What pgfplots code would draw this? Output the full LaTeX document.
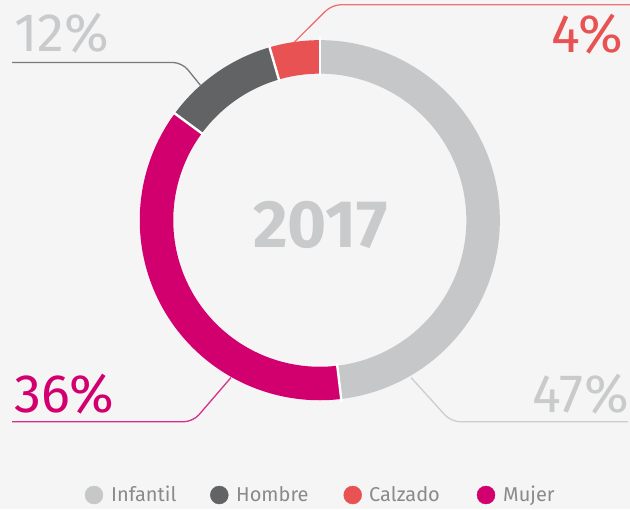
\documentclass[border=0pt]{standalone}
\usepackage{pgfplots}
\pgfplotsset{compat=1.18}
\usepackage{pgfplotstable}
\usepackage{fontspec}
\setmainfont{Fira Sans}
\definecolor{bg}{HTML}{F5F5F5}
\definecolor{cInf}{HTML}{C6C7C8}
\definecolor{cHom}{HTML}{626365}
\definecolor{cCal}{HTML}{E85252}
\definecolor{cMuj}{HTML}{D2006E}
\definecolor{lblgray}{HTML}{C9CACB}
\definecolor{leggray}{HTML}{8A8A8A}
\definecolor{lnHom}{HTML}{7A7A7A}
\definecolor{lnCal}{HTML}{EC7476}
\definecolor{lnMuj}{HTML}{D6308A}
\definecolor{lnInf}{HTML}{CDCDCD}

% shares as drawn (clockwise from 12 o'clock)
\pgfplotstableread{
name share
Infantil 48.1
Mujer 37.0
Hombre 10.4
Calzado 4.5
}\shares

\pgfplotstablegetelem{0}{share}\of\shares \let\sA\pgfplotsretval
\pgfplotstablegetelem{1}{share}\of\shares \let\sB\pgfplotsretval
\pgfplotstablegetelem{2}{share}\of\shares \let\sC\pgfplotsretval
\pgfplotstablegetelem{3}{share}\of\shares \let\sD\pgfplotsretval
\pgfmathsetmacro{\tot}{\sA+\sB+\sC+\sD}
\pgfmathsetmacro{\aA}{0}
\pgfmathsetmacro{\aB}{360*(\sA/\tot)}
\pgfmathsetmacro{\aC}{360*((\sA+\sB)/\tot)}
\pgfmathsetmacro{\aD}{360*((\sA+\sB+\sC)/\tot)}
\pgfmathsetmacro{\aE}{360}
\def\cx{319.8}
\def\cy{220.2}
\def\rmid{163.3}

\begin{document}
\begin{tikzpicture}
\begin{axis}[
  name=ax,
  width=630bp, height=509bp, scale only axis,
  xmin=0, xmax=630, ymin=0, ymax=509, y dir=reverse,
  hide axis, clip=false,
]
\fill[bg] (axis cs:0,0) rectangle (axis cs:630,509);

% ring segments
\addplot[cInf, line width=33.5bp, domain=\aA:\aB, samples=90, no marks, smooth] ({\cx+\rmid*sin(x)}, {\cy-\rmid*cos(x)});
\addplot[cMuj, line width=33.5bp, domain=\aB:\aC, samples=70, no marks, smooth] ({\cx+\rmid*sin(x)}, {\cy-\rmid*cos(x)});
\addplot[cHom, line width=33.5bp, domain=\aC:\aD, samples=30, no marks, smooth] ({\cx+\rmid*sin(x)}, {\cy-\rmid*cos(x)});
\addplot[cCal, line width=33.5bp, domain=\aD:\aE, samples=20, no marks, smooth] ({\cx+\rmid*sin(x)}, {\cy-\rmid*cos(x)});

% separators
\addplot[white, line width=2.4bp, domain=144:183, samples=2, no marks] ({\cx+x*sin(\aA)}, {\cy-x*cos(\aA)});
\addplot[white, line width=2.4bp, domain=144:183, samples=2, no marks] ({\cx+x*sin(\aB)}, {\cy-x*cos(\aB)});
\addplot[white, line width=2.4bp, domain=144:183, samples=2, no marks] ({\cx+x*sin(\aC)}, {\cy-x*cos(\aC)});
\addplot[white, line width=2.4bp, domain=144:183, samples=2, no marks] ({\cx+x*sin(\aD)}, {\cy-x*cos(\aD)});

% leader lines
\addplot[lnHom, line width=1.3bp, rounded corners=9bp, no marks] coordinates {(12,62.5) (182,62.5) (201,86)};
\addplot[lnCal, line width=1.3bp, rounded corners=9bp, no marks] coordinates {(294,42.5) (332,4.7) (630,4.7)};
\addplot[lnMuj, line width=1.3bp, rounded corners=9bp, no marks] coordinates {(12,421.7) (193,421.7) (231,377.5)};
\addplot[lnInf, line width=1.3bp, rounded corners=9bp, no marks] coordinates {(411,377.5) (451,421.7) (628,421.7)};

% labels
\node[anchor=base west, inner sep=0pt, text=lblgray, font=\fontsize{54bp}{64bp}\selectfont] at (axis cs:14,52) {12\%};
\node[anchor=base east, inner sep=0pt, text=cCal, font=\fontsize{54bp}{64bp}\selectfont] at (axis cs:623,52.3) {4\%};
\node[anchor=base west, inner sep=0pt, text=cMuj, font=\fontsize{54bp}{64bp}\selectfont] at (axis cs:14,412.3) {36\%};
\node[anchor=base east, inner sep=0pt, text=lblgray, font=\fontsize{54bp}{64bp}\selectfont] at (axis cs:629,412.3) {47\%};
\node[anchor=base, inner sep=0pt, text=lblgray, font=\fontsize{67bp}{76bp}\selectfont\bfseries] at (axis cs:320.5,247) {2017};

% legend
\addplot[only marks, mark=*, mark size=9bp, cInf] coordinates {(94,495)};
\addplot[only marks, mark=*, mark size=9bp, cHom] coordinates {(219.3,495)};
\addplot[only marks, mark=*, mark size=9bp, cCal] coordinates {(352.7,495)};
\addplot[only marks, mark=*, mark size=9bp, cMuj] coordinates {(486,495)};
\node[anchor=base west, inner sep=0pt, text=leggray, font=\fontsize{20bp}{24bp}\selectfont] at (axis cs:111,501.7) {Infantil};
\node[anchor=base west, inner sep=0pt, text=leggray, font=\fontsize{20bp}{24bp}\selectfont] at (axis cs:236,501.7) {Hombre};
\node[anchor=base west, inner sep=0pt, text=leggray, font=\fontsize{20bp}{24bp}\selectfont] at (axis cs:369,501.7) {Calzado};
\node[anchor=base west, inner sep=0pt, text=leggray, font=\fontsize{20bp}{24bp}\selectfont] at (axis cs:503,501.7) {Mujer};
\end{axis}
\pgfresetboundingbox
\useasboundingbox (ax.south west) rectangle (ax.north east);
\end{tikzpicture}
\end{document}
